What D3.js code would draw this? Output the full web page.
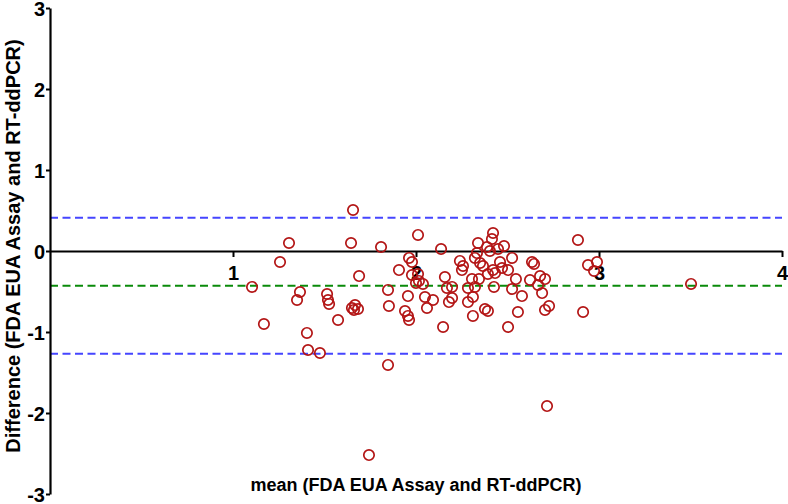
<!DOCTYPE html>
<html>
<head>
<meta charset="utf-8">
<script src="https://cdn.jsdelivr.net/npm/d3@7"></script>
<style>
  body { margin: 0; background: #fff; }
  svg text { font-family: "Liberation Sans", Arial, sans-serif; font-weight: bold; }
</style>
</head>
<body>
<div id="chart"></div>
<script>
// mean of the two assays (x) and their difference (y)
const meanVals = [1.104, 1.169, 1.257, 1.306, 1.350, 1.366, 1.404, 1.410, 1.475, 1.514,
  1.519, 1.525, 1.574, 1.645, 1.656, 1.650, 1.667, 1.683, 1.661, 1.689,
  1.743, 1.809, 1.847, 1.847, 1.852, 1.907, 1.940, 1.956, 1.956, 1.962,
  1.962, 1.978, 1.978, 2.011, 2.011, 2.000, 2.016, 2.038, 2.049, 2.060,
  2.093, 2.137, 2.148, 2.158, 2.169, 2.197, 2.197, 2.180, 2.240, 2.257,
  2.251, 2.284, 2.284, 2.311, 2.311, 2.322, 2.333, 2.339, 2.350, 2.366,
  2.322, 2.344, 2.306, 2.377, 2.393, 2.388, 2.404, 2.421, 2.415, 2.448,
  2.481, 2.393, 2.421, 2.432, 2.459, 2.470, 2.503, 2.426, 2.525, 2.525,
  2.546, 2.557, 2.503, 2.579, 2.634, 2.645, 2.623, 2.667, 2.678, 2.705,
  2.689, 2.727, 2.705, 2.716, 2.885, 2.940, 2.973, 2.989, 2.913, 3.503];
const diffVals = [-0.444, -0.901, -0.136, 0.099, -0.605, -0.506, -1.012, -1.222, -1.259, -0.531,
  -0.605, -0.654, -0.852, 0.099, 0.506, -0.704, -0.667, -0.716, -0.728, -0.309,
  -2.519, 0.049, -0.481, -1.407, -0.679, -0.235, -0.741, -0.556, -0.802, -0.852,
  -0.086, -0.136, -0.296, -0.284, 0.198, -0.395, -0.370, -0.407, -0.568, -0.704,
  -0.605, 0.025, -0.938, -0.321, -0.457, -0.444, -0.580, -0.630, -0.123, -0.185,
  -0.235, -0.457, -0.630, -0.568, -0.802, -0.086, -0.025, 0.099, -0.148, -0.185,
  -0.444, -0.346, -0.346, -0.716, -0.741, 0.049, 0.000, 0.222, 0.148, 0.025,
  0.062, -0.284, -0.235, -0.272, -0.136, -0.210, -0.235, -0.444, -0.086, -0.469,
  -0.346, -0.753, -0.938, -0.556, -0.136, -0.160, -0.358, -0.420, -0.309, -0.346,
  -0.519, -0.679, -0.728, -1.914, 0.136, -0.173, -0.247, -0.136, -0.753, -0.407];

// bias and limits of agreement
const biasLine = -0.43;
const upperLimit = 0.41;
const lowerLimit = -1.27;

const xTicks = [1, 2, 3, 4];
const yTicks = [-3, -2, -1, 0, 1, 2, 3];

const width = 788, height = 504;

const svg = d3.select("#chart")
  .append("svg")
  .attr("width", width)
  .attr("height", height);

const x = d3.scaleLinear().domain([0, 4]).range([50, 782]);
const y = d3.scaleLinear().domain([-3, 3]).range([494, 8]);

// reference lines
const refLines = [
  {v: upperLimit, c: "#4545ff"},
  {v: biasLine, c: "#0a8a0a"},
  {v: lowerLimit, c: "#4545ff"}
];
svg.append("g")
  .selectAll("line")
  .data(refLines)
  .join("line")
  .attr("x1", x(0))
  .attr("x2", x(4))
  .attr("y1", d => y(d.v))
  .attr("y2", d => y(d.v))
  .attr("stroke", d => d.c)
  .attr("stroke-width", 2)
  .attr("stroke-dasharray", "8,4.5");

// X axis, crossing at zero
const xAxis = svg.append("g")
  .attr("transform", `translate(0, ${y(0)})`)
  .call(d3.axisBottom(x).tickValues(xTicks).tickFormat(d3.format("d"))
    .tickSize(6).tickPadding(9).tickSizeOuter(0));

// Y axis
const yAxis = svg.append("g")
  .attr("transform", `translate(${x(0)}, 0)`)
  .call(d3.axisLeft(y).tickValues(yTicks).tickFormat(d3.format("d"))
    .tickSize(4).tickPadding(1).tickSizeOuter(0));

[xAxis, yAxis].forEach(a => {
  a.select(".domain").attr("stroke", "#000").attr("stroke-width", 2.2);
  a.selectAll(".tick line").attr("stroke", "#000").attr("stroke-width", 2);
  a.selectAll(".tick text").attr("fill", "#000").style("font-size", "20px");
});
yAxis.selectAll(".tick text").attr("dy", "0.36em");
// the "-" in the y labels is a hyphen in the reference
yAxis.selectAll(".tick text").text(d => String(d));

// points
svg.append("g")
  .selectAll("circle")
  .data(meanVals)
  .join("circle")
  .attr("cx", d => x(d))
  .attr("cy", (d, i) => y(diffVals[i]))
  .attr("r", 5.2)
  .attr("fill", "none")
  .attr("stroke", "#b31515")
  .attr("stroke-width", 1.7);

// axis titles
svg.append("text")
  .attr("x", 416)
  .attr("y", 491)
  .attr("text-anchor", "middle")
  .style("font-size", "18px")
  .text("mean (FDA EUA Assay and RT-ddPCR)");

svg.append("text")
  .attr("transform", "translate(20, 246) rotate(-90)")
  .attr("text-anchor", "middle")
  .style("font-size", "20px")
  .text("Difference (FDA EUA Assay and RT-ddPCR)");
</script>
</body>
</html>
